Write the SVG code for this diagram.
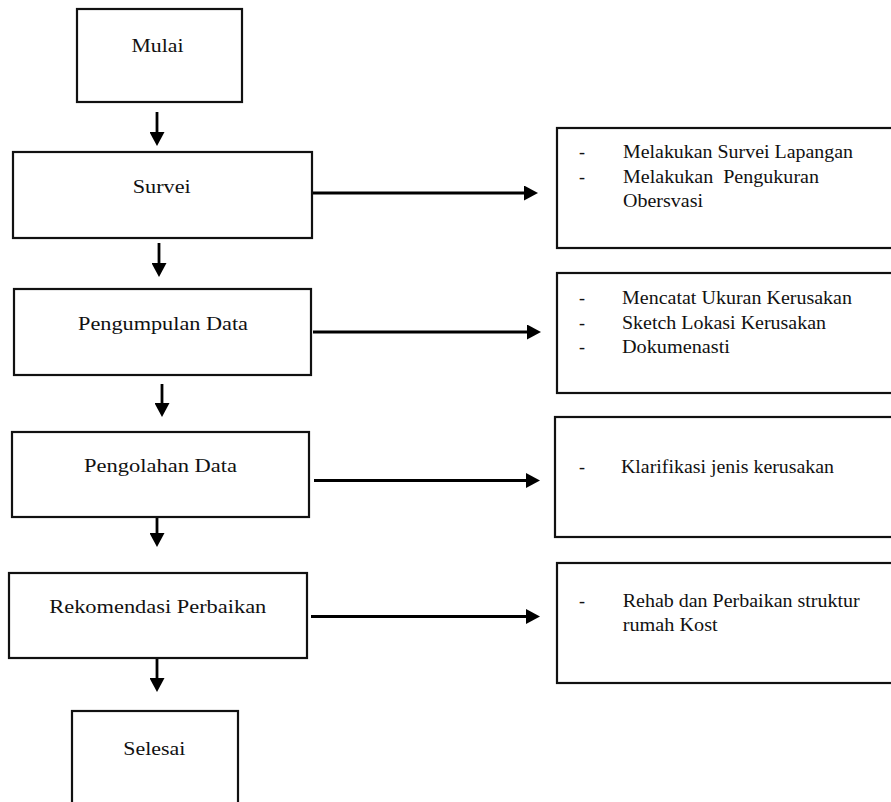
<svg xmlns="http://www.w3.org/2000/svg" width="891" height="802" viewBox="0 0 891 802">
<style>
.box{fill:#fff;stroke:#111;stroke-width:2.2}
.t{fill:#111;font-size:19px}
.r{fill:#111;font-size:18px}
.ln{stroke:#000;stroke-width:2.8;fill:none}
</style>
<defs>
<marker id="ah" viewBox="0 0 14 15" refX="4" refY="7.5" markerWidth="14" markerHeight="15" markerUnits="userSpaceOnUse" orient="auto">
<path d="M0,0 L14,7.5 L0,15 Z" fill="#000"/>
</marker>
</defs>
<g id="connectors">
<line class="ln" x1="157" y1="112" x2="157" y2="136" marker-end="url(#ah)"/>
<line class="ln" x1="159" y1="243" x2="159" y2="267" marker-end="url(#ah)"/>
<line class="ln" x1="162" y1="384" x2="162" y2="407" marker-end="url(#ah)"/>
<line class="ln" x1="157" y1="513" x2="157" y2="537" marker-end="url(#ah)"/>
<line class="ln" x1="157" y1="658" x2="157" y2="682" marker-end="url(#ah)"/>
<line class="ln" x1="312" y1="193" x2="528" y2="193" marker-end="url(#ah)"/>
<line class="ln" x1="313" y1="332" x2="531" y2="332" marker-end="url(#ah)"/>
<line class="ln" x1="314" y1="480.5" x2="530" y2="480.5" marker-end="url(#ah)"/>
<line class="ln" x1="311" y1="616.5" x2="530" y2="616.5" marker-end="url(#ah)"/>
</g>
<g font-family="Liberation Serif, Times New Roman, serif">
<g id="mulai">
<rect class="box" x="77" y="9" width="165" height="93"/>
<text class="t" x="131.5" y="52" textLength="52" lengthAdjust="spacingAndGlyphs">Mulai</text>
</g>
<g id="survei">
<rect class="box" x="13" y="152" width="299" height="86"/>
<text class="t" x="132.7" y="192.5" textLength="58" lengthAdjust="spacingAndGlyphs">Survei</text>
</g>
<g id="pengumpulan">
<rect class="box" x="14" y="289" width="297" height="86"/>
<text class="t" x="78" y="330" textLength="170" lengthAdjust="spacingAndGlyphs">Pengumpulan Data</text>
</g>
<g id="pengolahan">
<rect class="box" x="12" y="432" width="297" height="85"/>
<text class="t" x="84" y="472.3" textLength="153" lengthAdjust="spacingAndGlyphs">Pengolahan Data</text>
</g>
<g id="rekomendasi">
<rect class="box" x="9" y="573" width="298" height="85"/>
<text class="t" x="49.3" y="612.7" textLength="217" lengthAdjust="spacingAndGlyphs">Rekomendasi Perbaikan</text>
</g>
<g id="selesai">
<rect class="box" x="72" y="711" width="166" height="110"/>
<text class="t" x="123.3" y="755" textLength="62" lengthAdjust="spacingAndGlyphs">Selesai</text>
</g>
<g id="ket-survei">
<rect class="box" x="557" y="128" width="350" height="120"/>
<text class="r" x="579" y="157.7">-</text>
<text class="r" x="623" y="157.7" textLength="230" lengthAdjust="spacingAndGlyphs">Melakukan Survei Lapangan</text>
<text class="r" x="579" y="183">-</text>
<text class="r" x="623" y="183" textLength="196" lengthAdjust="spacingAndGlyphs" xml:space="preserve">Melakukan  Pengukuran</text>
<text class="r" x="623" y="207" textLength="80" lengthAdjust="spacingAndGlyphs">Obersvasi</text>
</g>
<g id="ket-pengumpulan">
<rect class="box" x="557" y="273" width="350" height="120"/>
<text class="r" x="579" y="304.3">-</text>
<text class="r" x="622" y="304.3" textLength="230" lengthAdjust="spacingAndGlyphs">Mencatat Ukuran Kerusakan</text>
<text class="r" x="579" y="329.3">-</text>
<text class="r" x="622" y="329.3" textLength="204" lengthAdjust="spacingAndGlyphs">Sketch Lokasi Kerusakan</text>
<text class="r" x="579" y="353.3">-</text>
<text class="r" x="622" y="353.3" textLength="108" lengthAdjust="spacingAndGlyphs">Dokumenasti</text>
</g>
<g id="ket-pengolahan">
<rect class="box" x="555" y="417" width="350" height="120"/>
<text class="r" x="579" y="472.7">-</text>
<text class="r" x="621" y="472.7" textLength="213" lengthAdjust="spacingAndGlyphs">Klarifikasi jenis kerusakan</text>
</g>
<g id="ket-rekomendasi">
<rect class="box" x="557" y="563" width="350" height="120"/>
<text class="r" x="579" y="606.7">-</text>
<text class="r" x="622.7" y="606.7" textLength="237" lengthAdjust="spacingAndGlyphs">Rehab dan Perbaikan struktur</text>
<text class="r" x="622.7" y="631" textLength="95" lengthAdjust="spacingAndGlyphs">rumah Kost</text>
</g>
</g>
</svg>
